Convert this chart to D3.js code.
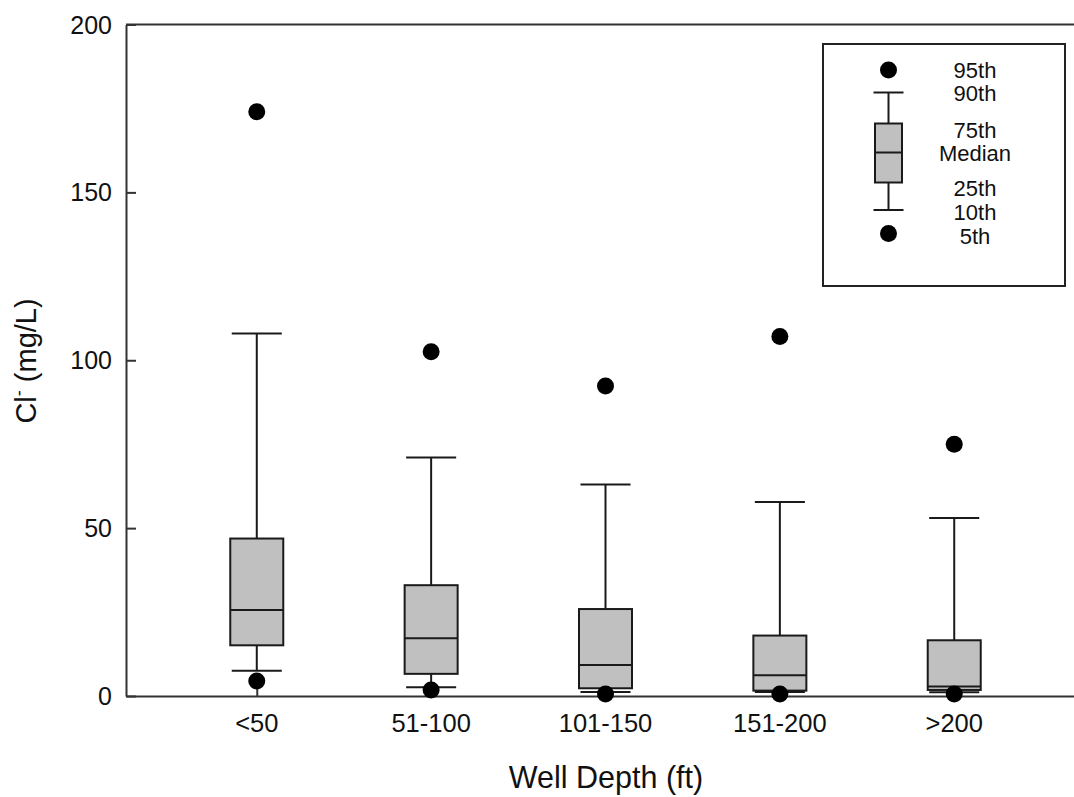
<!DOCTYPE html>
<html>
<head>
<meta charset="utf-8">
<script src="https://cdn.jsdelivr.net/npm/d3@7"></script>
<style>
  html, body { margin: 0; padding: 0; background: #fff; }
  svg { display: block; font-family: "Liberation Sans", Arial, sans-serif; }
</style>
</head>
<body>
<svg id="chart" width="1074" height="797"></svg>
<script>
// ---- data ----
const categories = ["<50", "51-100", "101-150", "151-200", ">200"];
const p5     = [4.5, 1.8, 0.6, 0.6, 0.6];
const p10    = [7.5, 2.6, 1.2, 1.2, 1.1];
const p25    = [15.1, 6.6, 2.3, 1.6, 1.8];
const median = [25.6, 17.2, 9.2, 6.2, 2.8];
const p75    = [46.9, 33.0, 25.9, 18.0, 16.6];
const p90    = [108, 71, 63, 57.8, 53];
const p95    = [174, 102.5, 92.3, 107.1, 75];
const yTicks = [0, 50, 100, 150, 200];
const legendLabels = ["95th", "90th", "75th", "Median", "25th", "10th", "5th"];

const svg = d3.select("#chart");
const axisColor = "#333";
const plotLeft = 126, plotTop = 24.5, plotBottom = 696, plotRight = 1085;

const x = d3.scaleLinear().domain([0.25, 5.75]).range([plotLeft, plotRight]);
const y = d3.scaleLinear().domain([0, 200]).range([plotBottom, plotTop]);

const data = categories.map((c, i) => ({
  c, i, p5: p5[i], p10: p10[i], p25: p25[i], med: median[i], p75: p75[i], p90: p90[i], p95: p95[i]
}));

const boxHalf = (x(1.304) - x(1)) / 2;
const capHalf = (x(1.287) - x(1)) / 2;

// frame: top line
svg.append("line").attr("x1", plotLeft).attr("x2", plotRight).attr("y1", plotTop).attr("y2", plotTop)
  .attr("stroke", axisColor).attr("stroke-width", 2);

// y axis (ticks pointing inward)
const yAxis = d3.axisRight(y).tickValues(yTicks).tickSize(10).tickSizeOuter(0).tickFormat("");
const yg = svg.append("g").attr("transform", `translate(${plotLeft},0)`).call(yAxis);
yg.select(".domain").attr("stroke", axisColor).attr("stroke-width", 2);
yg.selectAll(".tick line").attr("stroke", axisColor).attr("stroke-width", 2);
svg.append("g").selectAll("text").data(yTicks).join("text")
  .attr("x", 112).attr("y", d => y(d)).attr("dy", "0.36em")
  .attr("text-anchor", "end").attr("font-size", 25).attr("fill", "#111")
  .text(d => d);

// x axis (ticks pointing inward)
const xAxis = d3.axisTop(x).tickValues(d3.range(1, categories.length + 1)).tickSize(10).tickSizeOuter(0).tickFormat("");
const xg = svg.append("g").attr("transform", `translate(0,${plotBottom})`).call(xAxis);
xg.select(".domain").attr("stroke", axisColor).attr("stroke-width", 2);
xg.selectAll(".tick line").attr("stroke", axisColor).attr("stroke-width", 2);
svg.append("g").selectAll("text").data(data).join("text")
  .attr("x", d => x(d.i + 1)).attr("y", 732)
  .attr("text-anchor", "middle").attr("font-size", 25.5).attr("fill", "#111")
  .text(d => d.c);

// boxes
const g = svg.append("g");
const lineCol = "#1a1a1a";
const sw = 2;
const boxes = g.selectAll("g.box").data(data).join("g").attr("class", "box");
// whiskers
boxes.append("line").attr("x1", d => x(d.i + 1)).attr("x2", d => x(d.i + 1))
  .attr("y1", d => y(d.p90)).attr("y2", d => y(d.p75)).attr("stroke", lineCol).attr("stroke-width", sw);
boxes.append("line").attr("x1", d => x(d.i + 1)).attr("x2", d => x(d.i + 1))
  .attr("y1", d => y(d.p25)).attr("y2", d => y(d.p10)).attr("stroke", lineCol).attr("stroke-width", sw);
// caps
boxes.append("line").attr("x1", d => x(d.i + 1) - capHalf).attr("x2", d => x(d.i + 1) + capHalf)
  .attr("y1", d => y(d.p90)).attr("y2", d => y(d.p90)).attr("stroke", lineCol).attr("stroke-width", sw);
boxes.append("line").attr("x1", d => x(d.i + 1) - capHalf).attr("x2", d => x(d.i + 1) + capHalf)
  .attr("y1", d => y(d.p10)).attr("y2", d => y(d.p10)).attr("stroke", lineCol).attr("stroke-width", sw);
// box
boxes.append("rect").attr("x", d => x(d.i + 1) - boxHalf).attr("width", 2 * boxHalf)
  .attr("y", d => y(d.p75)).attr("height", d => y(d.p25) - y(d.p75))
  .attr("fill", "#c0c0c0").attr("stroke", lineCol).attr("stroke-width", sw);
// median
boxes.append("line").attr("x1", d => x(d.i + 1) - boxHalf).attr("x2", d => x(d.i + 1) + boxHalf)
  .attr("y1", d => y(d.med)).attr("y2", d => y(d.med)).attr("stroke", lineCol).attr("stroke-width", sw);
// outlier dots
boxes.append("circle").attr("cx", d => x(d.i + 1)).attr("cy", d => y(d.p95)).attr("r", 8.5).attr("fill", "#000");
boxes.append("circle").attr("cx", d => x(d.i + 1)).attr("cy", d => y(d.p5)).attr("r", 8.5).attr("fill", "#000");

// axis titles
svg.append("text").attr("x", 606).attr("y", 788).attr("text-anchor", "middle")
  .attr("font-size", 30.5).attr("fill", "#111").text("Well Depth (ft)");
const yt = svg.append("text").attr("transform", "translate(36,361) rotate(-90)")
  .attr("text-anchor", "middle").attr("font-size", 29).attr("fill", "#111");
yt.append("tspan").text("Cl");
yt.append("tspan").attr("font-size", 18).attr("dy", -11).text("-");
yt.append("tspan").attr("dy", 11).text(" (mg/L)");

// legend
const lg = svg.append("g");
lg.append("rect").attr("x", 823).attr("y", 44).attr("width", 242).attr("height", 242)
  .attr("fill", "#fff").attr("stroke", "#222").attr("stroke-width", 2);
const lx = 888.5;
lg.append("circle").attr("cx", lx).attr("cy", 70).attr("r", 8.5).attr("fill", "#000");
lg.append("circle").attr("cx", lx).attr("cy", 233.5).attr("r", 8.5).attr("fill", "#000");
lg.append("line").attr("x1", lx).attr("x2", lx).attr("y1", 92.5).attr("y2", 123.5).attr("stroke", lineCol).attr("stroke-width", sw);
lg.append("line").attr("x1", lx).attr("x2", lx).attr("y1", 182.5).attr("y2", 210).attr("stroke", lineCol).attr("stroke-width", sw);
lg.append("line").attr("x1", lx - 15).attr("x2", lx + 15).attr("y1", 92.5).attr("y2", 92.5).attr("stroke", lineCol).attr("stroke-width", sw);
lg.append("line").attr("x1", lx - 15).attr("x2", lx + 15).attr("y1", 210).attr("y2", 210).attr("stroke", lineCol).attr("stroke-width", sw);
lg.append("rect").attr("x", lx - 13.5).attr("y", 123.5).attr("width", 27).attr("height", 59)
  .attr("fill", "#c0c0c0").attr("stroke", lineCol).attr("stroke-width", sw);
lg.append("line").attr("x1", lx - 13.5).attr("x2", lx + 13.5).attr("y1", 152.5).attr("y2", 152.5).attr("stroke", lineCol).attr("stroke-width", sw);
const legendY = [70, 93, 130, 153, 188, 212, 236];
lg.selectAll("text.lt").data(legendLabels).join("text").attr("class", "lt")
  .attr("x", 975).attr("y", (d, i) => legendY[i]).attr("dy", "0.36em")
  .attr("text-anchor", "middle").attr("font-size", 22).attr("fill", "#111").text(d => d);
</script>
</body>
</html>
